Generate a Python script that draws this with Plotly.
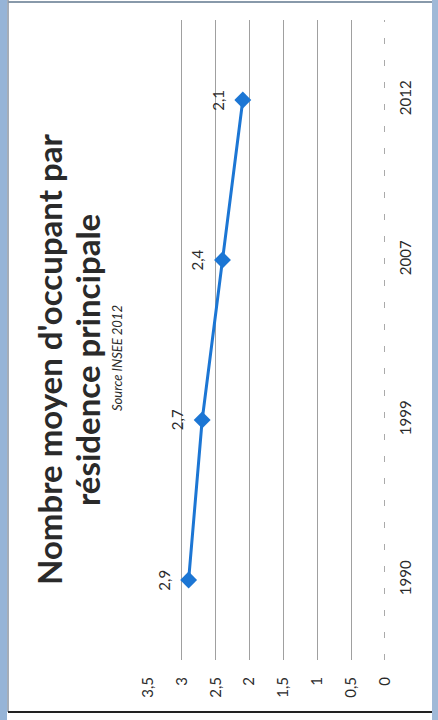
import plotly.graph_objects as go

# ---- data ----
years = ["1990", "1999", "2007", "2012"]
occupants = [2.9, 2.7, 2.4, 2.1]
value_ticks = [0, 0.5, 1, 1.5, 2, 2.5, 3, 3.5]
value_tick_labels = ["0", "0,5", "1", "1,5", "2", "2,5", "3", "3,5"]
title_line1 = "Nombre moyen d'occupant par"
title_line2 = "résidence principale"
subtitle = "Source INSEE 2012"

W, H = 438, 720
ML, MR, MT, MB = 148, 53, 20, 60
PW, PH = W - ML - MR, H - MT - MB


def px(xp):
    return (xp - ML) / PW


def py(yp):
    return (H - MB - yp) / PH


BLUE = "rgb(28,118,212)"
TXT = "#2b2b2b"

fig = go.Figure()
fig.add_trace(go.Scatter(
    x=occupants, y=years, mode="lines+markers",
    line=dict(color=BLUE, width=3),
    marker=dict(symbol="diamond", size=13, color=BLUE),
    hoverinfo="skip", showlegend=False,
))

annotations = []
for i, v in enumerate(occupants):
    annotations.append(dict(
        x=v, y=i, xref="x", yref="y", text=str(v).replace(".", ","),
        showarrow=False, textangle=-90, xshift=-25,
        xanchor="center", yanchor="middle",
        font=dict(family="Lato, sans-serif", size=15, color=TXT),
    ))

annotations += [
    dict(x=px(49), y=py(359), xref="paper", yref="paper", text="<b>" + title_line1 + "</b>",
         showarrow=False, textangle=-90, xanchor="center", yanchor="middle",
         font=dict(family="Lato, sans-serif", size=33, color="#2a2a2a")),
    dict(x=px(87), y=py(360), xref="paper", yref="paper", text="<b>" + title_line2 + "</b>",
         showarrow=False, textangle=-90, xanchor="center", yanchor="middle",
         font=dict(family="Lato, sans-serif", size=33, color="#2a2a2a")),
    dict(x=px(117), y=py(358), xref="paper", yref="paper", text="<i>" + subtitle + "</i>",
         showarrow=False, textangle=-90, xanchor="center", yanchor="middle",
         font=dict(family="Lato, sans-serif", size=13, color=TXT)),
]

shapes = [
    # category axis line (value 0), scanned look
    dict(type="line", xref="x", yref="paper", x0=0, x1=0, y0=0, y1=1,
         line=dict(color="#555", width=1, dash="6px,16px")),
    # scanned page borders
    dict(type="rect", xref="paper", yref="paper", x0=px(0), x1=px(7), y0=py(720), y1=py(0),
         fillcolor="rgb(150,180,215)", line=dict(width=0), layer="below"),
    dict(type="rect", xref="paper", yref="paper", x0=px(432), x1=px(438), y0=py(720), y1=py(0),
         fillcolor="rgb(160,185,215)", line=dict(width=0), layer="below"),
    dict(type="line", xref="paper", yref="paper", x0=px(8), x1=px(8), y0=py(712), y1=py(0),
         line=dict(color="#4a5a70", width=1)),
    dict(type="line", xref="paper", yref="paper", x0=px(8), x1=px(432), y0=py(712), y1=py(712),
         line=dict(color="#222", width=2)),
    dict(type="line", xref="paper", yref="paper", x0=px(8), x1=px(432), y0=py(2), y1=py(2),
         line=dict(color="#8899aa", width=2)),
]

fig.update_layout(
    width=W, height=H,
    margin=dict(l=ML, r=MR, t=MT, b=MB),
    paper_bgcolor="white", plot_bgcolor="white",
    separators=", ",
    annotations=annotations,
    shapes=shapes,
    xaxis=dict(
        range=[3.5, 0], tickvals=value_ticks, ticktext=value_tick_labels,
        tickangle=-90, showgrid=True, gridcolor="#a0a0a0", gridwidth=1,
        zeroline=False, showline=False, ticks="",
        ticklabelstandoff=13,
        tickfont=dict(family="Lato, sans-serif", size=15, color=TXT),
    ),
    yaxis=dict(
        type="category", categoryorder="array", categoryarray=years,
        range=[-0.5, 3.5], side="right", tickangle=-90,
        showgrid=False, zeroline=False, showline=False, ticks="",
        ticklabelstandoff=10,
        tickfont=dict(family="Lato, sans-serif", size=15, color=TXT),
    ),
)

fig.write_html("out.html")
